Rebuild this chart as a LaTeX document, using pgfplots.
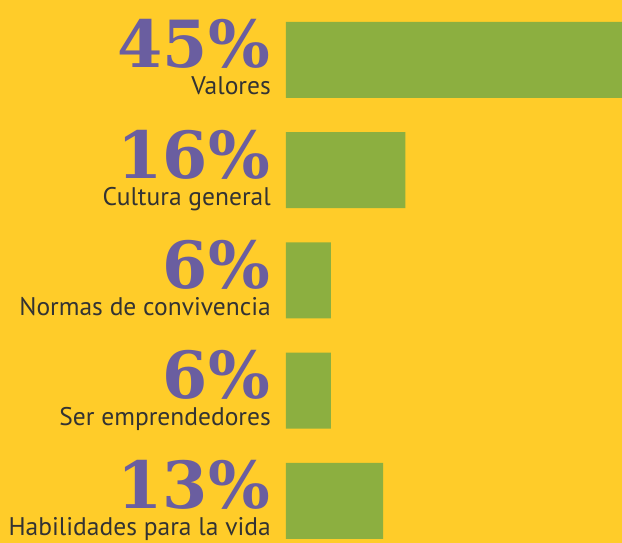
\documentclass[border=0pt]{standalone}
\usepackage{pgfplots}
\pgfplotsset{compat=1.18}
\usepackage{fontspec}
\setmainfont{PT Sans}
\newfontfamily\numfont{DejaVu Serif}
\definecolor{bg}{HTML}{FFCC29}
\definecolor{barg}{HTML}{8CAF40}
\definecolor{purp}{HTML}{6A5EA0}
\definecolor{txt}{HTML}{333333}
\tikzset{
  pct/.style={anchor=base east, font=\numfont\bfseries\fontsize{65}{65}\selectfont, text=purp, inner sep=0pt, text depth=0pt, text height=47pt},
  lab/.style={anchor=base east, font=\fontsize{25.5}{25.5}\selectfont, text=txt, inner sep=0pt, text height=17pt}}
\begin{document}
\begin{tikzpicture}
\fill[bg] (0,0) rectangle (622pt,543pt);
\begin{axis}[at={(286pt,0pt)}, anchor=south west, scale only axis,
  width=336pt, height=543pt, xmin=0, xmax=45, ymin=-0.5442, ymax=4.381,
  y dir=reverse, hide axis, xbar, bar width=76pt, clip=false]
\addplot[fill=barg, draw=none] coordinates {(45,0) (16,1) (6,2) (6,3) (13,4)};
\node[pct] at ([xshift=-16pt,yshift=-8pt]axis cs:0,0) {45\%};
\node[pct] at ([xshift=-16pt,yshift=-8pt]axis cs:0,1) {16\%};
\node[pct] at ([xshift=-16pt,yshift=-8pt]axis cs:0,2) {6\%};
\node[pct] at ([xshift=-16pt,yshift=-8pt]axis cs:0,3) {6\%};
\node[pct] at ([xshift=-16pt,yshift=-8pt]axis cs:0,4) {13\%};
\node[lab] at ([xshift=-15pt,yshift=-35pt]axis cs:0,0) {Valores};
\node[lab] at ([xshift=-15pt,yshift=-35pt]axis cs:0,1) {Cultura general};
\node[lab] at ([xshift=-15pt,yshift=-35pt]axis cs:0,2) {Normas de convivencia};
\node[lab] at ([xshift=-15pt,yshift=-35pt]axis cs:0,3) {Ser emprendedores};
\node[lab] at ([xshift=-15pt,yshift=-35pt]axis cs:0,4) {Habilidades para la vida};
\end{axis}
\pgfresetboundingbox
\useasboundingbox (0,0) rectangle (622pt,543pt);
\end{tikzpicture}
\end{document}
